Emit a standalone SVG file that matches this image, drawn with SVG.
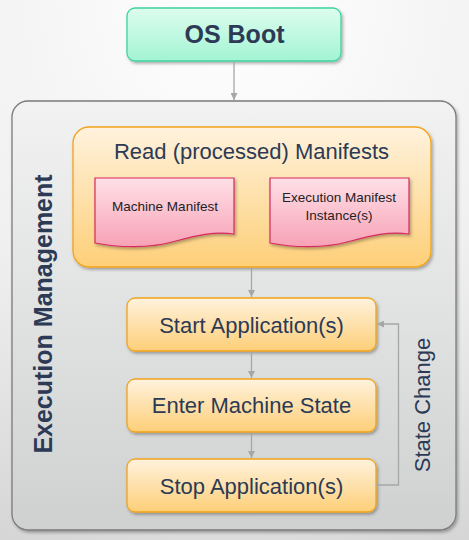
<svg xmlns="http://www.w3.org/2000/svg" width="469" height="540" viewBox="0 0 469 540">
<defs>
<radialGradient id="bg" cx="0.5" cy="0" r="1.1">
<stop offset="0" stop-color="#ffffff"/>
<stop offset="0.6" stop-color="#f0f0f0"/>
<stop offset="1" stop-color="#d6d6d6"/>
</radialGradient>
<linearGradient id="cont" x1="0" y1="0" x2="0" y2="1">
<stop offset="0" stop-color="#f2f2f2"/>
<stop offset="1" stop-color="#cfd1d1"/>
</linearGradient>
<linearGradient id="mint" x1="0" y1="0" x2="0" y2="1">
<stop offset="0" stop-color="#ddfdee"/>
<stop offset="1" stop-color="#a3f4d4"/>
</linearGradient>
<linearGradient id="orange" x1="0" y1="0" x2="0" y2="1">
<stop offset="0" stop-color="#fff2dd"/>
<stop offset="1" stop-color="#fdcf78"/>
</linearGradient>
<linearGradient id="pink" x1="0" y1="0" x2="0" y2="1">
<stop offset="0" stop-color="#ffe0e7"/>
<stop offset="1" stop-color="#f7a2b6"/>
</linearGradient>
<filter id="sh" x="-10%" y="-10%" width="120%" height="120%">
<feDropShadow dx="1.5" dy="2" stdDeviation="1.5" flood-color="#000" flood-opacity="0.3"/>
</filter>
<marker id="arr" viewBox="0 0 10 10" refX="10" refY="5" markerWidth="7" markerHeight="7" markerUnits="userSpaceOnUse" orient="auto">
<path d="M0,0 L10,5 L0,10 z" fill="#a6a6a6"/>
</marker>
</defs>
<style>
.t{font-family:"Liberation Sans",Arial,sans-serif;fill:#2c3a55;text-anchor:middle}
.big{font-size:22px}
.sm{font-family:"Liberation Sans",Arial,sans-serif;font-size:13.5px;fill:#222222;text-anchor:middle}
.step{fill:url(#orange);stroke:#f2a31c;stroke-width:1.3;filter:url(#sh)}
.doc{fill:url(#pink);stroke:#d42a60;stroke-width:1.2;filter:url(#sh)}
.c{fill:none;stroke:#a6a6a6;stroke-width:1.3}
</style>
<rect width="469" height="540" fill="url(#bg)"/>

<g id="execution-management">
<rect x="12" y="101" width="444" height="429" rx="16" fill="url(#cont)" stroke="#7b7b7b" stroke-width="1.3" filter="url(#sh)"/>
<text class="t" transform="translate(52,314) rotate(-90)" font-size="25" font-weight="bold">Execution Management</text>
</g>

<g id="os-boot">
<rect x="127" y="8" width="214" height="53" rx="8" fill="url(#mint)" stroke="#3ed3a0" stroke-width="1.3" filter="url(#sh)"/>
<text class="t" x="234.5" y="43" font-size="25" font-weight="bold">OS Boot</text>
</g>

<g id="read-manifests">
<rect x="73" y="127" width="358" height="140" rx="16" fill="url(#orange)" stroke="#f2a31c" stroke-width="1.3" filter="url(#sh)"/>
<text class="t big" x="251.5" y="159">Read (processed) Manifests</text>
</g>

<g id="machine-manifest">
<path class="doc" d="M95,178 H234 V234 C212,231 195,236 172,242 C150,248 120,248 95,243 Z"/>
<text class="sm" x="165" y="211">Machine Manifest</text>
</g>

<g id="execution-manifest">
<path class="doc" d="M270,178 H409 V234 C387,231 370,236 347,242 C325,248 295,248 270,243 Z"/>
<text class="sm" x="339" y="202">Execution Manifest</text>
<text class="sm" x="339" y="219.5">Instance(s)</text>
</g>

<g id="start-applications">
<rect class="step" x="127" y="298" width="249" height="53" rx="8"/>
<text class="t big" x="251.5" y="333">Start Application(s)</text>
</g>

<g id="enter-machine-state">
<rect class="step" x="127" y="379" width="249" height="53" rx="8"/>
<text class="t big" x="251.5" y="413">Enter Machine State</text>
</g>

<g id="stop-applications">
<rect class="step" x="127" y="459" width="249" height="53" rx="8"/>
<text class="t big" x="251.5" y="494">Stop Application(s)</text>
</g>

<g id="connectors">
<line class="c" x1="234" y1="61" x2="234" y2="100" marker-end="url(#arr)"/>
<line class="c" x1="251.5" y1="267" x2="251.5" y2="297" marker-end="url(#arr)"/>
<line class="c" x1="251.5" y1="351" x2="251.5" y2="378" marker-end="url(#arr)"/>
<line class="c" x1="251.5" y1="432" x2="251.5" y2="458" marker-end="url(#arr)"/>
<polyline class="c" points="376,485 398.5,485 398.5,324 377,324" marker-end="url(#arr)"/>
<text class="t big" transform="translate(430,405) rotate(-90)">State Change</text>
</g>
</svg>
